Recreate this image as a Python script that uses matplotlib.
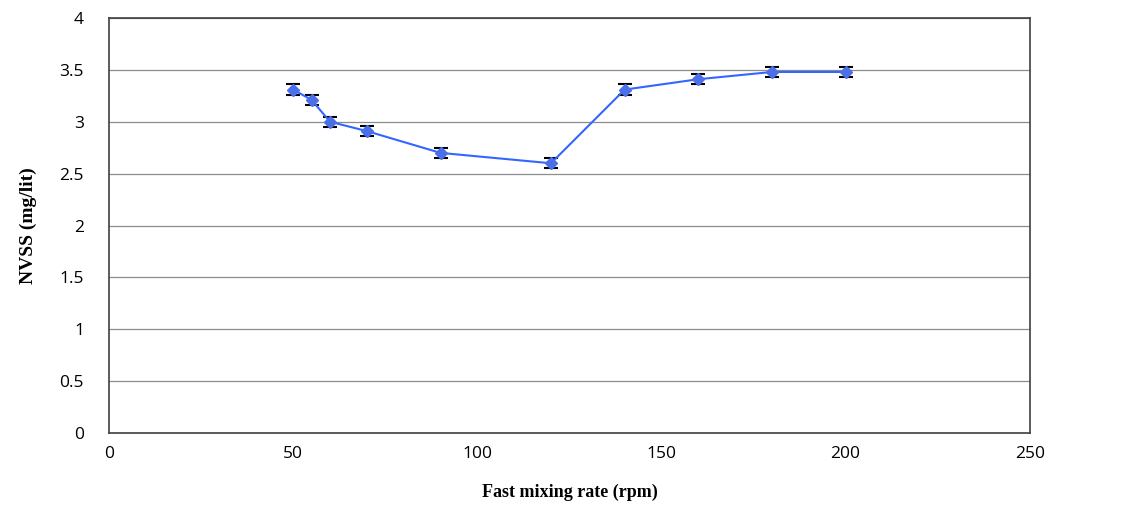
import matplotlib
matplotlib.use("Agg")
import matplotlib.pyplot as plt

# Fast mixing rate (rpm) vs NVSS
rpm = [50, 55, 60, 70, 90, 120, 140, 160, 180, 200]
nvss = [3.31, 3.21, 3.00, 2.91, 2.70, 2.60, 3.31, 3.41, 3.48, 3.48]
err = [0.05, 0.05, 0.05, 0.05, 0.05, 0.05, 0.05, 0.05, 0.05, 0.05]

x_ticks = [0, 50, 100, 150, 200, 250]
y_ticks = [0, 0.5, 1, 1.5, 2, 2.5, 3, 3.5, 4]
y_tick_labels = ["0", "0.5", "1", "1.5", "2", "2.5", "3", "3.5", "4"]

fig = plt.figure(figsize=(11.48, 5.30), dpi=100)
ax = fig.add_axes([0.095, 0.183, 0.802, 0.783])

# Plot
ax.errorbar(rpm, nvss, yerr=err, color="#3366ff", lw=1.5,
            marker="D", ms=6.5, mfc="#4a6fe8", mec="#4a6fe8",
            ecolor="black", elinewidth=1.2, capsize=5, capthick=1.5,
            zorder=3)

# Format plot
ax.set_xlim(0, 250)
ax.set_ylim(0, 4)
ax.set_xticks(x_ticks)
ax.set_yticks(y_ticks)
ax.set_yticklabels(y_tick_labels)
ax.tick_params(length=0, labelsize=12.5)
for lab in ax.get_xticklabels() + ax.get_yticklabels():
    lab.set_fontfamily("Open Sans")
ax.tick_params(axis="x", pad=9)
ax.tick_params(axis="y", pad=18)
ax.yaxis.grid(True, color="#8c8c8c", lw=0.9)
ax.set_axisbelow(True)
for s in ax.spines.values():
    s.set_color("#404040")
    s.set_linewidth(1.2)

ax.set_xlabel("Fast mixing rate (rpm)", fontsize=13, fontweight="bold",
              fontfamily="Liberation Serif", labelpad=16)
ax.set_ylabel("NVSS (mg/lit)", fontsize=14, fontweight="bold",
              fontfamily="Liberation Serif", labelpad=16)

fig.savefig("out.png", dpi=100)
